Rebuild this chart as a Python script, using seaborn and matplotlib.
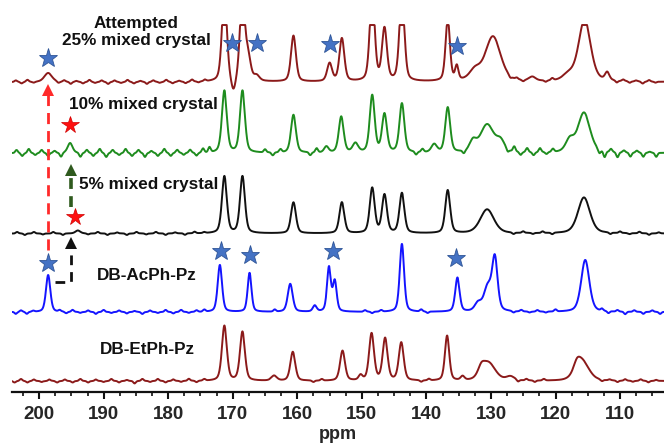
import numpy as np
import pandas as pd
import matplotlib
matplotlib.use("Agg")
import matplotlib.pyplot as plt
from matplotlib.ticker import MultipleLocator
import seaborn as sns

sns.set_theme(style="white")
plt.rcParams['font.family'] = ['Liberation Sans', 'DejaVu Sans']

# ---- data: peak centre (ppm), height, width (ppm) ----
ppm = np.linspace(204.2, 103.2, 2500)

att25_pos = [198.6, 171.3, 169.9, 168.5, 167.6, 166.3, 160.6, 155.0, 153.1, 148.4, 146.5, 143.8, 136.7, 135.3, 132.5, 129.7, 123.6, 118.0, 115.5, 112.0]
att25_h   = [9, 90, -14, 90, 22, 5, 46, 18, 43, 90, 52, 90, 62, 14, 10, 45, 4, 6, 62, 8]
att25_w   = [1.4, 0.9, 0.8, 0.9, 0.9, 1.0, 0.9, 0.9, 0.9, 0.9, 0.9, 0.9, 0.8, 0.6, 2.0, 2.8, 1.2, 2.0, 2.2, 0.8]

mix10_pos = [195.2, 171.3, 168.5, 160.6, 155.5, 153.2, 151.0, 148.4, 146.5, 143.8, 138.8, 136.7, 132.8, 130.6, 128.5, 117.8, 115.6]
mix10_h   = [10, 62, 62, 38, 6, 36, 9, 57, 38, 49, 8, 45, 10, 28, 10, 12, 40]
mix10_w   = [0.9, 0.9, 0.9, 0.9, 0.8, 0.9, 1.0, 0.9, 0.9, 0.9, 1.0, 0.9, 1.2, 2.5, 1.5, 1.5, 2.2]

mix5_pos = [194.0, 171.3, 168.5, 160.6, 153.1, 148.4, 146.5, 143.8, 136.7, 130.6, 115.6]
mix5_h   = [3, 57, 57, 31, 31, 45, 38, 40, 43, 24, 36]
mix5_w   = [0.9, 0.9, 0.9, 0.9, 0.9, 0.9, 0.9, 0.9, 0.9, 2.5, 2.2]

acph_pos = [198.6, 172.0, 167.4, 161.1, 157.3, 155.1, 154.2, 143.8, 135.2, 132.0, 130.5, 129.4, 115.4]
acph_h   = [37, 47, 39, 28, 6, 44, 30, 68, 34, 8, 24, 52, 52]
acph_w   = [0.8, 0.8, 0.7, 0.9, 0.7, 0.7, 0.7, 0.8, 0.8, 1.2, 1.4, 1.0, 1.5]

etph_pos = [171.3, 168.5, 163.6, 160.7, 153.0, 150.2, 148.5, 146.4, 143.9, 136.8, 134.4, 131.5, 130.4, 127.0, 116.7, 115.9]
etph_h   = [55, 49, 5, 29, 30, 5, 47, 42, 38, 45, 4, 8, 18, 4, 8, 20]
etph_w   = [0.9, 0.9, 1.0, 0.9, 0.9, 0.7, 0.9, 0.9, 0.9, 0.8, 0.7, 1.2, 2.5, 1.5, 1.2, 2.5]

# baseline wiggles (ppm, amplitude)
att25_np = [203.6, 202.7, 201.8, 200.8, 197.0, 196.1, 195.1, 194.2, 193.2, 192.2, 191.3, 190.3, 189.3, 188.3, 187.3, 186.3, 185.3, 184.3, 183.3, 182.3, 181.3, 180.3, 179.3, 178.3, 177.3, 176.3, 175.3, 174.3, 127.0, 126.0, 125.0, 121.5, 120.5, 110.5, 109.5, 108.5, 107.5, 106.5, 105.5, 104.5]
att25_na = [1.5, -1.5, 2, -1, -1.5, 1.5, -2, 1, -1.5, 2, -1, 1.5, -2, 1.5, -1, 2, -1.5, 1, -2, 1.5, -1, 2, -1.5, 1, -1.5, 2, -1, 1.5, -2, 1.5, -1.5, -1.5, 2, -2, 1.5, -1.5, 1, -2, 1.5, -1]

mix10_np = [203.5, 202.6, 201.6, 200.6, 199.6, 198.6, 197.6, 196.6, 193.6, 192.6, 191.6, 190.6, 189.6, 188.6, 187.6, 186.6, 185.6, 184.6, 183.6, 182.6, 181.6, 180.6, 179.6, 178.6, 177.6, 176.6, 175.6, 174.6, 173.6, 165.0, 163.8, 162.6, 158.0, 157.0, 141.6, 140.6, 134.2, 127.4, 126.4, 125.4, 124.4, 123.4, 122.4, 121.4, 120.4, 113.2, 112.4, 111.4, 110.4, 109.4, 108.4, 107.4, 106.4, 105.4, 104.4]
mix10_na = [3, -3, 4, -2, 3, -3, 2, -4, -4, 3, -3, 4, -4, 3, -2, 4, -3, 3, -4, 2, -3, 4, -3, 3, -2, 3, -3, 4, 5, 3, -3, 3, -3, 4, -3, 3, -3, -3, 5, -3, 4, -3, 4, -2, 3, -4, -6, 3, -5, 2, -4, 2, -4, 1, -4]

mix5_np = [203.4, 202.2, 200.8, 199.4, 197.8, 196.3, 192.4, 190.9, 189.4, 187.9, 186.4, 184.9, 183.4, 181.9, 180.4, 178.9, 177.4, 175.9, 174.4, 126.5, 125.0, 123.5, 122.0, 120.5, 111.5, 110.0, 108.5, 107.0, 105.5, 104.0]
mix5_na = [1.5, -1.5, 1.5, -1, 1.5, -1.5, -1, 1.5, -1.5, 1, -1.5, 1.5, -1, 1.5, -1.5, 1, -1.5, 1.5, 1, -1.5, 1.5, -1, 1.5, -1.5, -1.5, 1.5, -1, 1.5, -1.5, 1]

acph_np = [203.6, 202.8, 201.9, 200.9, 196.8, 195.8, 194.8, 193.6, 192.4, 191.2, 190.0, 188.8, 187.6, 186.4, 185.2, 184.0, 182.8, 181.6, 180.4, 179.2, 178.0, 176.8, 175.6, 174.4, 163.5, 149.5, 148.4, 147.0, 140.8, 139.8, 126.5, 125.3, 124.0, 122.8, 121.5, 120.0, 112.8, 111.8, 110.4, 109.2, 107.8, 106.4, 105.0, 103.8]
acph_na = [-2, 1.5, -2, 1, 1.5, -1.5, 2, -1, 1.5, -2, 2, -1, 1.5, -1.5, 1, -2, 1.5, -1, 2, -1.5, 2, -1, 1.5, 2, 2, 1.5, -1.5, 1.5, 2, -1.5, -1.5, 1.5, -1, 1.5, -1, 2, 2, -2, 1.5, -2.5, 1.5, -2, 1.5, -2]

etph_np = [203.8, 202.8, 201.8, 200.8, 199.6, 198.4, 197.2, 196.0, 194.8, 193.6, 192.4, 191.2, 190.0, 188.8, 187.6, 186.4, 185.2, 184.0, 182.8, 181.6, 180.4, 179.2, 178.0, 176.8, 175.6, 174.4, 157.5, 156.2, 140.8, 139.6, 125.8, 124.5, 123.2, 121.8, 112.8, 111.6, 110.4, 109.2, 108.0, 106.8, 105.6, 104.4]
etph_na = [-1.5, 2, -1.5, 1.5, -1, 1.5, -1.5, 1.5, -1.5, 2, -1.5, 1.5, -1, 2, -1.5, 1, -2.5, 2, -1, 2, -1.5, 1.5, -1, 2, -1.5, 1.5, -1.5, 1.5, -1.5, 1.5, -2, 1.5, -1.5, 1.5, -1.5, 1, -1.5, 1.5, -1, 1.5, -1.5, 1]

# vertical offsets of the stacked spectra and their colours / labels
offsets = [310, 239, 158.5, 80, 11]
colors = ['#8B1A1A', '#1E8C1E', '#111111', '#1414FF', '#8B1A1A']
clip_top = 57  # top spectrum is cut off in the original

# stars marking peaks: (ppm, height)
blue_star_x = [198.6, 170.1, 166.2, 154.9, 135.3, 198.6, 171.9, 167.3, 154.4, 135.4]
blue_star_y = [334, 349, 349, 348.5, 346, 129.3, 141.3, 137, 141.3, 134.3]
red_star_x = [195.2, 194.4]
red_star_y = [267, 174.7]

labels = ['Attempted\n25% mixed crystal', '10% mixed crystal', '5% mixed crystal', 'DB-AcPh-Pz', 'DB-EtPh-Pz']


def spectrum(pos, h, w, eta=0.4):
    y = np.zeros_like(ppm)
    for c, a, fw in zip(pos, h, w):
        g = np.exp(-4 * np.log(2) * (ppm - c) ** 2 / fw ** 2)
        lz = 1 / (1 + 4 * (ppm - c) ** 2 / fw ** 2)
        y += a * ((1 - eta) * g + eta * lz)
    return y


def wiggle(pos, amp):
    return spectrum(pos, amp, [0.45] * len(pos), eta=0.0)


traces = [
    np.minimum(spectrum(att25_pos, att25_h, att25_w), clip_top) + wiggle(att25_np, att25_na),
    spectrum(mix10_pos, mix10_h, mix10_w) + wiggle(mix10_np, mix10_na),
    spectrum(mix5_pos, mix5_h, mix5_w) + wiggle(mix5_np, mix5_na),
    spectrum(acph_pos, acph_h, acph_w) + wiggle(acph_np, acph_na),
    spectrum(etph_pos, etph_h, etph_w) + wiggle(etph_np, etph_na),
]

fig = plt.figure(figsize=(6.64, 4.47), dpi=100)
ax = fig.add_axes([12 / 664, 55 / 447, 652 / 664, 392 / 447])

for y, off, col in zip(traces, offsets, colors):
    df = pd.DataFrame({'ppm': ppm, 'int': y + off})
    sns.lineplot(data=df, x='ppm', y='int', color=col, lw=1.4, ax=ax)

# dashed arrows
ax.plot([198.6, 198.6], [142, 298], color='#FF2A2A', lw=2, ls=(0, (4, 2.5)))
ax.plot([198.6], [302], marker='^', color='#FF2A2A', ms=8, mew=0)
ax.plot([195.1, 195.1], [185, 220], color='#2F5A1E', lw=2.6, ls=(0, (3, 2)))
ax.plot([195.1], [222], marker='^', color='#2F5A1E', ms=8, mew=0)
ax.plot([197.6, 195.05, 195.05], [110, 110, 147], color='#111111', lw=2, ls=(0, (3.5, 2.5)))
ax.plot([195.05], [149], marker='^', color='#111111', ms=8, mew=0)

ax.plot(blue_star_x, blue_star_y, ls='none', marker='*', ms=14,
        color='#4472C4', mec='#2F5597', mew=0.6, zorder=5)
ax.plot(red_star_x, red_star_y, ls='none', marker='*', ms=13,
        color='#FF1010', mec='#D00000', mew=0.5, zorder=5)

txt = dict(fontsize=12.3, fontweight='bold', ha='center', va='center', color='#111111')
ax.text(185.0, 360, labels[0], linespacing=1.15, **txt)
ax.text(183.8, 288, labels[1], **txt)
ax.text(183.1, 207, labels[2], **txt)
ax.text(183.3, 117, labels[3], **txt)
ax.text(183.2, 42, labels[4], **txt)

ax.set_xlim(204.2, 103.2)
ax.set_ylim(0, 392)
for s in ['left', 'right', 'top']:
    ax.spines[s].set_visible(False)
ax.spines['bottom'].set_linewidth(1.6)
ax.spines['bottom'].set_color('#111111')
ax.set_xticks(np.arange(200, 105, -10))
ax.xaxis.set_minor_locator(MultipleLocator(2.5))
ax.set_yticks([])
ax.tick_params(axis='x', which='major', direction='out', length=5, width=1.5,
               labelsize=13.5, pad=5, bottom=True, color='#111111')
ax.tick_params(axis='x', which='minor', direction='out', length=3, width=1.2,
               bottom=True, color='#111111')
for lab in ax.get_xticklabels():
    lab.set_fontweight('bold')
ax.set_xlabel('ppm', fontsize=13, fontweight='bold', labelpad=2)
ax.set_ylabel('')

fig.savefig('out.png', dpi=100)
